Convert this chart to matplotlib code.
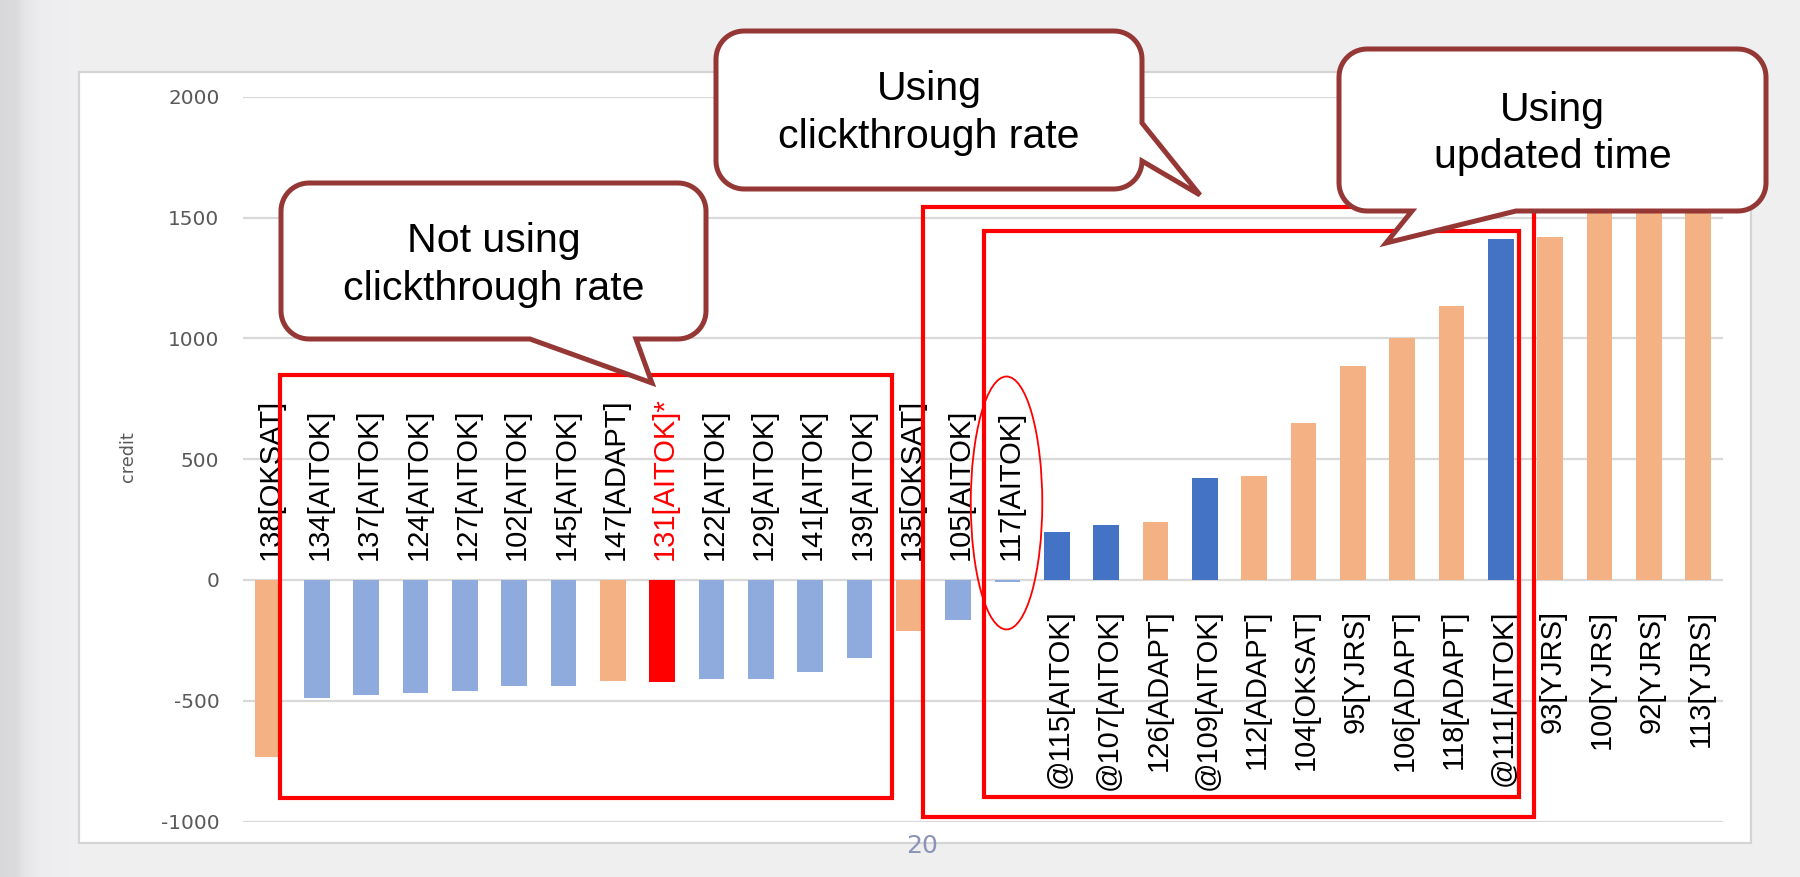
import numpy as np
import matplotlib.pyplot as plt
from matplotlib.patches import Rectangle, Ellipse, Polygon

plt.rcParams['axes.unicode_minus'] = False

# bar labels (x categories) and credit values
labels = ["138[OKSAT]", "134[AITOK]", "137[AITOK]", "124[AITOK]", "127[AITOK]",
          "102[AITOK]", "145[AITOK]", "147[ADAPT]", "131[AITOK]*", "122[AITOK]",
          "129[AITOK]", "141[AITOK]", "139[AITOK]", "135[OKSAT]", "105[AITOK]",
          "117[AITOK]", "@115[AITOK]", "@107[AITOK]", "126[ADAPT]", "@109[AITOK]",
          "112[ADAPT]", "104[OKSAT]", "95[YJRS]", "106[ADAPT]", "118[ADAPT]",
          "@111[AITOK]", "93[YJRS]", "100[YJRS]", "92[YJRS]", "113[YJRS]"]
credit = [-733, -488, -475, -467, -459, -438, -438, -419, -421, -409,
          -409, -380, -325, -210, -164, -10, 200, 229, 239, 420,
          429, 649, 887, 1001, 1135, 1410, 1420, 1600, 1650, 1700]
yticks = [-1000, -500, 0, 500, 1000, 1500, 2000]

callouts = [
    ("Not using", "clickthrough rate"),
    ("Using", "clickthrough rate"),
    ("Using", "updated time"),
]


def bar_color(lab):
    if "AITOK" not in lab:
        return "#F4B183"
    if lab.endswith("*"):
        return "#FF0000"
    if lab.startswith("@"):
        return "#4472C4"
    return "#8FAADC"


def callout_outline(x0, y0, x1, y1, r, edge, tail):
    # rounded box in pixel coords (y down), tail points inserted on one edge
    def arc(cx, cy, a0, a1):
        t = np.linspace(a0, a1, 14)
        return [(cx + r * np.cos(a), cy + r * np.sin(a)) for a in t]
    pts = [(x0 + r, y0), (x1 - r, y0)]
    pts += arc(x1 - r, y0 + r, -np.pi / 2, 0)
    if edge == "right":
        pts += tail
    pts += arc(x1 - r, y1 - r, 0, np.pi / 2)
    if edge == "bottom":
        pts += tail
    pts += arc(x0 + r, y1 - r, np.pi / 2, np.pi)
    pts += arc(x0 + r, y0 + r, np.pi, 1.5 * np.pi)
    return pts


fig = plt.figure(figsize=(18, 8.77), dpi=100)
fig.patch.set_facecolor("#efefef")

# background: paper strip on the left and the white chart frame
bg = fig.add_axes([0, 0, 1, 1], zorder=0)
xs = np.arange(70)
shade = np.interp(xs, [0, 16, 24, 40, 69], [0.85, 0.86, 0.90, 0.93, 0.937])
strip = np.stack([shade, shade, shade * 1.01], axis=-1)[None, :, :].clip(0, 1)
bg.imshow(strip, extent=[0, 70, 877, 0], aspect="auto")
bg.add_patch(Rectangle((79, 71.6), 1671.7, 771.4, fc="white", ec="#d4d4d4", lw=1.6))
bg.set_xlim(0, 1800)
bg.set_ylim(877, 0)
bg.axis("off")

# main chart
ax = fig.add_axes([243 / 1800, (877 - 821.5) / 877, 1479.7 / 1800, 724.7 / 877], zorder=1)
ax.patch.set_alpha(0)
x = np.arange(len(labels))
ax.bar(x, credit, width=0.52, color=[bar_color(l) for l in labels], zorder=2)
ax.set_xlim(-0.5, len(labels) - 0.5)
ax.set_ylim(-1000, 2000)
ax.set_yticks(yticks)
ax.set_yticklabels([str(v) for v in yticks], fontsize=14.4, color="#595959",
                   family="DejaVu Sans")
ax.tick_params(axis="y", length=0, pad=17)
ax.set_xticks([])
ax.grid(axis="y", color="#d9d9d9", lw=1.6, zorder=0)
for s in ax.spines.values():
    s.set_visible(False)
ax.set_ylabel("credit", fontsize=12.7, color="#595959", family="DejaVu Sans")
ax.yaxis.set_label_coords(-0.0713, 0.504)

for i, (lab, v) in enumerate(zip(labels, credit)):
    col = "red" if lab.endswith("*") else "black"
    if v < 0:
        ax.annotate(lab, (i, 0), xytext=(2, 14.3), textcoords="offset points",
                    rotation=90, ha="center", va="bottom", fontsize=21, color=col,
                    family="Liberation Sans", zorder=3)
    else:
        ax.annotate(lab, (i, 0), xytext=(2, -21.2), textcoords="offset points",
                    rotation=90, ha="center", va="top", fontsize=21, color=col,
                    family="Liberation Sans", zorder=3)

# red highlight boxes and the ellipse around 117
for (xa, xb, ya, yb) in [(0.26, 12.65, -901.6, 848), (13.28, 25.67, -980, 1542),
                         (14.52, 25.36, -900, 1445.6)]:
    ax.add_patch(Rectangle((xa, ya), xb - xa, yb - ya, fill=False, ec="#ff0000",
                           lw=3.0, clip_on=False, zorder=5))
ax.add_patch(Ellipse((14.98, 318.6), 1.45, 1047, fill=False, ec="#ff0000",
                     lw=1.3, clip_on=False, zorder=5))

# speech-bubble callouts in pixel coordinates
ov = fig.add_axes([0, 0, 1, 1], zorder=2)
ov.set_xlim(0, 1800)
ov.set_ylim(877, 0)
ov.axis("off")

boxes = [
    (281, 183, 706, 339, "bottom", [(636, 339), (652, 383), (530, 339)], 493.5, 251.7, 300),
    (716, 31, 1142, 189, "right", [(1142, 123), (1200, 195), (1142, 161)], 929, 100, 148.3),
    (1339, 49, 1766, 211, "bottom", [(1516, 211), (1386, 243), (1412, 211)], 1552.5, 120.7, 168.3),
]
for (x0, y0, x1, y1, edge, tail, tx, b1, b2), (l1, l2) in zip(boxes, callouts):
    pts = callout_outline(x0, y0, x1, y1, 28, edge, tail)
    ov.add_patch(Polygon(pts, closed=True, fc="white", ec="#953735", lw=3.6,
                         joinstyle="miter"))
    ov.text(tx, b1, l1, ha="center", va="baseline", fontsize=29.6,
            family="Liberation Sans", color="black")
    ov.text(tx, b2, l2, ha="center", va="baseline", fontsize=29.6,
            family="Liberation Sans", color="black")

ov.text(922, 853, "20", ha="center", va="baseline", fontsize=18, color="#8a93b8",
        family="DejaVu Sans")

fig.savefig("out.png", dpi=100, facecolor=fig.get_facecolor())
